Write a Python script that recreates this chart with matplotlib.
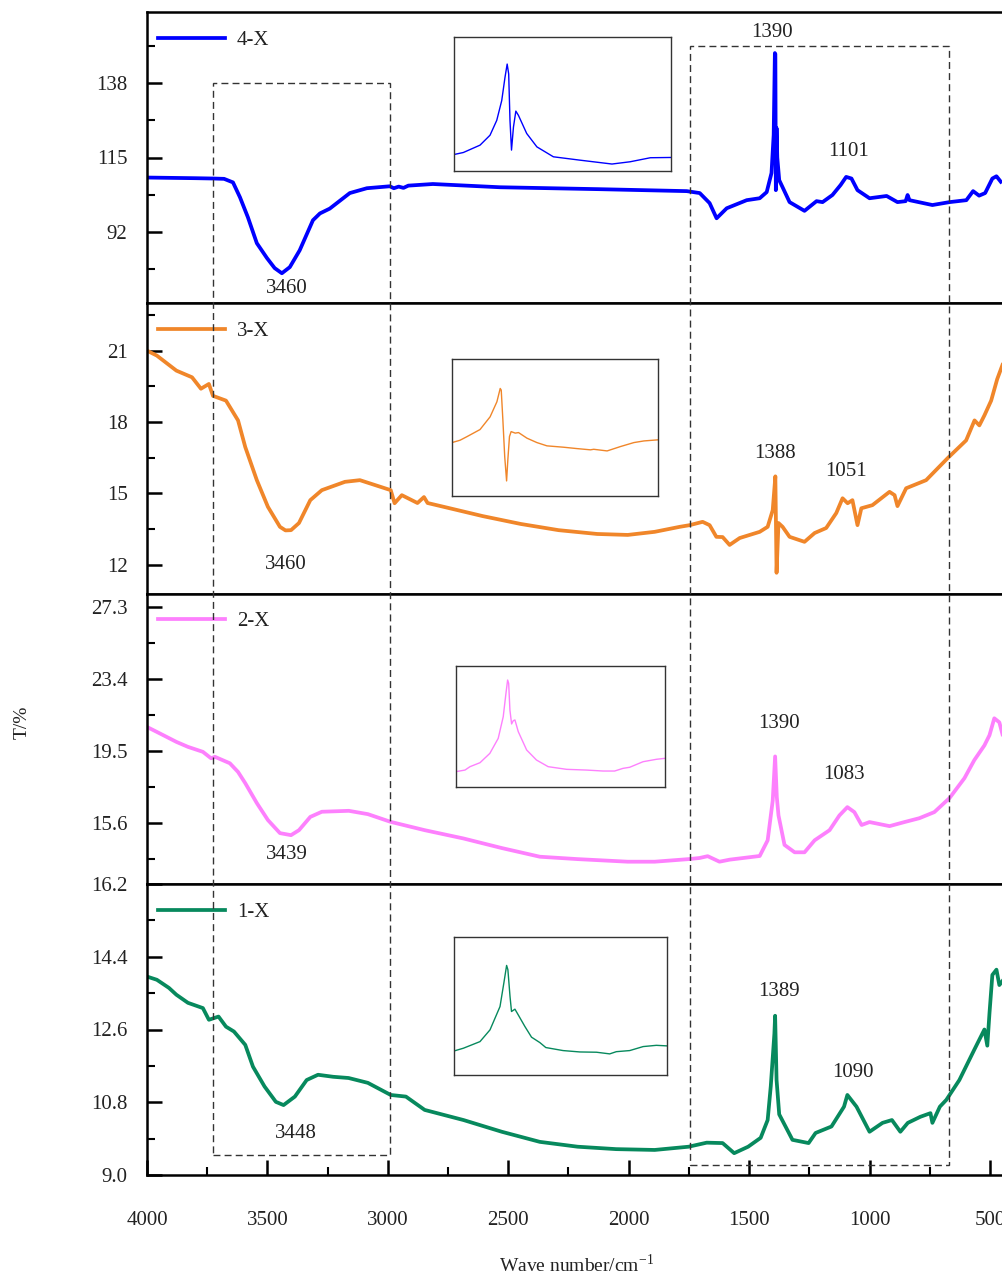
import matplotlib
matplotlib.use('Agg')
import matplotlib.pyplot as plt
import matplotlib.transforms as mtransforms
from matplotlib.patches import Rectangle
from matplotlib.ticker import MultipleLocator, FormatStrFormatter

plt.rcParams['font.family'] = ['Liberation Serif', 'DejaVu Serif']
plt.rcParams['mathtext.fontset'] = 'custom'
plt.rcParams['mathtext.rm'] = 'Liberation Serif'

# ---- spectra (wavenumber, T%) ----
wn4 = [4000, 3900, 3800, 3726, 3680, 3643, 3614, 3581, 3544, 3502, 3470, 3440, 3407, 3366, 3311,
       3282, 3241, 3158, 3087, 2992, 2975, 2955, 2935, 2915, 2813, 2535, 2120, 1759, 1705, 1664,
       1635, 1593, 1510, 1456, 1427, 1407, 1398, 1393, 1391, 1389, 1386, 1383, 1375, 1361, 1332,
       1270, 1220, 1195, 1154, 1120, 1097, 1075, 1050, 1000, 929, 884, 850, 842, 834, 739,
       668, 598, 570, 545, 520, 490, 473, 455]
t4 = [108.8, 108.7, 108.6, 108.5, 108.4, 107.3, 102.7, 96.5, 88.5, 83.9, 80.8, 79.2, 81.1, 86.3, 95.6,
      97.7, 99.2, 104.0, 105.5, 106.1, 105.5, 106.0, 105.6, 106.3, 106.8, 105.8, 105.2, 104.6, 104.0, 100.9,
      96.2, 99.3, 101.8, 102.4, 104.3, 110.2, 122.0, 147.3, 147.0, 104.9, 124.1, 115.0, 108.0, 105.8, 101.2,
      98.5, 101.5, 101.2, 103.4, 106.5, 109.0, 108.5, 104.9, 102.4, 103.1, 101.2, 101.5, 103.4, 101.8, 100.3,
      101.2, 101.8, 104.6, 103.2, 104.0, 108.5, 109.2, 107.5]

wn3 = [4000, 3959, 3878, 3813, 3776, 3743, 3726, 3672, 3622, 3592, 3544, 3498, 3448, 3425, 3402,
       3369, 3322, 3274, 3178, 3116, 3052, 2988, 2972, 2942, 2877, 2850, 2835, 2768, 2606, 2448,
       2291, 2131, 2004, 1892, 1788, 1747, 1693, 1664, 1636, 1610, 1581, 1539, 1456, 1423, 1402,
       1391, 1386, 1378, 1361, 1332, 1270, 1228, 1180, 1138, 1112, 1091, 1071, 1050, 1034, 988,
       917, 896, 884, 848, 765, 676, 599, 564, 544, 523, 495, 470, 448]
t3 = [21.0, 20.79, 20.16, 19.88, 19.4, 19.6, 19.1, 18.9, 18.07, 16.95, 15.56, 14.44, 13.6, 13.45, 13.46,
      13.76, 14.72, 15.14, 15.49, 15.56, 15.35, 15.14, 14.59, 14.93, 14.6, 14.85, 14.6, 14.44, 14.05, 13.72,
      13.46, 13.30, 13.26, 13.39, 13.6, 13.67, 13.81, 13.67, 13.18, 13.17, 12.84, 13.13, 13.39, 13.6, 14.3,
      15.72, 11.67, 13.76, 13.6, 13.18, 12.97, 13.34, 13.55, 14.18, 14.8, 14.59, 14.72, 13.67, 14.38, 14.51,
      15.07, 14.93, 14.47, 15.22, 15.56, 16.48, 17.23, 18.07, 17.86, 18.28, 18.9, 19.8, 20.4]

wn2 = [4000, 3959, 3878, 3830, 3768, 3734, 3718, 3656, 3622, 3592, 3544, 3498, 3448, 3402, 3369,
       3322, 3274, 3162, 3083, 2988, 2847, 2686, 2527, 2369, 2212, 2004, 1892, 1751, 1706, 1672,
       1623, 1581, 1456, 1423, 1402, 1392, 1385, 1378, 1353, 1311, 1270, 1228, 1166, 1125, 1092,
       1063, 1033, 1000, 917, 855, 793, 731, 668, 606, 565, 523, 502, 482, 461, 448]
t2 = [20.8, 20.53, 19.99, 19.72, 19.45, 19.1, 19.18, 18.83, 18.36, 17.75, 16.67, 15.75, 15.04, 14.93, 15.2,
      15.92, 16.2, 16.25, 16.07, 15.65, 15.2, 14.75, 14.23, 13.76, 13.63, 13.49, 13.49, 13.63, 13.69, 13.79,
      13.49, 13.6, 13.8, 14.65, 16.8, 19.2, 17.0, 16.0, 14.4, 14.0, 14.0, 14.65, 15.2, 16.0, 16.45,
      16.18, 15.48, 15.64, 15.42, 15.64, 15.85, 16.18, 16.94, 18.02, 19.0, 19.8, 20.35, 21.27, 21.05, 20.4]

wn1 = [4000, 3959, 3909, 3878, 3830, 3768, 3743, 3703, 3672, 3639, 3592, 3560, 3512, 3465, 3433,
       3386, 3337, 3290, 3227, 3163, 3083, 2988, 2925, 2847, 2686, 2527, 2369, 2212, 2052, 1892,
       1751, 1676, 1610, 1562, 1504, 1452, 1423, 1410, 1395, 1392, 1386, 1375, 1320, 1253, 1224,
       1158, 1106, 1092, 1054, 1000, 946, 907, 872, 841, 789, 747, 739, 708, 681, 627,
       565, 523, 511, 502, 490, 473, 461, 448]
t1 = [13.91, 13.83, 13.63, 13.46, 13.26, 13.13, 12.84, 12.92, 12.67, 12.55, 12.22, 11.68, 11.19, 10.81, 10.73,
      10.94, 11.35, 11.48, 11.43, 11.4, 11.28, 10.98, 10.94, 10.61, 10.36, 10.07, 9.82, 9.70, 9.64, 9.62,
      9.70, 9.80, 9.79, 9.54, 9.70, 9.92, 10.36, 11.2, 12.5, 12.94, 11.35, 10.5, 9.87, 9.79, 10.04,
      10.2, 10.69, 10.98, 10.69, 10.07, 10.29, 10.36, 10.07, 10.29, 10.44, 10.53, 10.29, 10.69, 10.86, 11.35,
      12.1, 12.6, 12.2, 13.0, 13.95, 14.08, 13.7, 13.8]

# ---- insets (relative position %, relative intensity %) ----
ix4 = [0, 4.3, 12, 16.6, 19.7, 22, 23.5, 24.5, 25.2, 25.8, 26.5, 27.4, 28.5, 29.7, 33.5, 38.2, 45.8, 58,
       72.8, 81.2, 90.5, 100]
iy4 = [12.3, 13.8, 19.3, 26.7, 37.8, 52.6, 69.9, 79.8, 72.4, 37.8, 15.6, 32.8, 44.7, 41.5, 28, 18, 10.6, 8.1,
       5.2, 6.9, 9.9, 10.1]
ix3 = [0, 3.9, 7.1, 13.6, 18.5, 21.8, 23.4, 23.9, 24.7, 25.6, 26.5, 27.1, 27.9, 28.7, 30.7, 32.3, 36.4, 41.2,
       46.1, 54.2, 60.7, 67.2, 68.8, 75.3, 81.8, 88.3, 93.2, 100]
iy3 = [39, 40.7, 43.2, 48.5, 57.8, 68.8, 78.5, 77.3, 55.4, 28.5, 11, 26.3, 43.4, 47, 45.9, 46.3, 42.2, 39,
       36.6, 35.6, 34.6, 33.7, 34.1, 32.9, 36.1, 39, 40.2, 41]
ix2 = [0, 4.3, 6.7, 11.5, 16.2, 20.2, 22.6, 23.9, 24.7, 25.2, 25.8, 26.6, 27.4, 28.2, 29.8, 33.8, 38.5, 44.1,
       52.9, 62.4, 70.4, 75.9, 79.9, 83.1, 89.5, 95.9, 100]
iy2 = [12.7, 14, 16.8, 20.1, 27.8, 40.2, 58.1, 77.4, 88.4, 85.7, 63.6, 52.1, 54.8, 55.4, 45.7, 30.6, 22.3, 16.8,
       14.6, 14, 13.2, 13.2, 15.4, 16.3, 20.9, 22.9, 23.7]
ix1 = [0, 4.4, 12.2, 16.9, 21.6, 23.4, 24.7, 25.3, 26.3, 27, 28.6, 29.7, 33.3, 36.4, 40.3, 43.1, 51.2, 59.1,
       66.9, 73.1, 76.2, 82.5, 88.8, 95, 100]
iy1 = [17.4, 19.4, 24.2, 32.7, 49.6, 66.6, 79.4, 76.3, 56.9, 46, 47.7, 44.8, 35.1, 27.4, 23.5, 19.9, 17.7, 16.7,
       16.5, 15.3, 16.9, 17.7, 20.6, 21.5, 21.1]

labels = ['4-X', '3-X', '2-X', '1-X']
colors = ['#0000ff', '#f0862a', '#fd80fd', '#07895d']
ylims = [(70.0, 160.0), (10.8, 23.0), (12.28, 28.04), (9.0, 16.2)]
ymajor = [23, 3, 3.9, 1.8]
yfmt = ['%d', '%d', '%.1f', '%.1f']
peaks = [
    [('3460', 3419, 74.6), ('1390', 1407, 153.8), ('1101', 1087, 117.0)],
    [('3460', 3423, 12.0), ('1388', 1394, 16.69), ('1051', 1096, 15.93)],
    [('3439', 3419, 13.9), ('1390', 1374, 21.0), ('1083', 1108, 18.24)],
    [('3448', 3382, 10.02), ('1389', 1374, 13.53), ('1090', 1071, 11.53)],
]
series = [(wn4, t4), (wn3, t3), (wn2, t2), (wn1, t1)]
insets = [(ix4, iy4), (ix3, iy3), (ix2, iy2), (ix1, iy1)]

W, H = 1003, 1277
fig = plt.figure(figsize=(W / 100, H / 100), dpi=100)


def px_rect(x0, y0, x1, y1):
    return [x0 / W, 1 - y1 / H, (x1 - x0) / W, (y1 - y0) / H]


panel_px = [(12, 303), (303, 593.5), (593.5, 884), (884, 1175)]
inset_px = [(454, 37, 671, 171), (452, 359, 658, 496), (456, 666, 665, 787), (454, 937, 667, 1075)]
tc = '#222222'

axes = []
for i in range(4):
    y0, y1 = panel_px[i]
    ax = fig.add_axes(px_rect(147, y0, 1015, y1))
    x, y = series[i]
    ax.plot(x, y, color=colors[i], lw=2.7, label=labels[i])
    ax.set_xlim(4000, 396)
    ax.set_ylim(*ylims[i])
    ax.yaxis.set_major_locator(MultipleLocator(ymajor[i]))
    ax.yaxis.set_minor_locator(MultipleLocator(ymajor[i] / 2))
    ax.yaxis.set_major_formatter(FormatStrFormatter(yfmt[i]))
    ax.xaxis.set_major_locator(MultipleLocator(500))
    ax.xaxis.set_minor_locator(MultipleLocator(250))
    for s in ax.spines.values():
        s.set_linewidth(1.8)
        s.set_color('black')
    ax.tick_params(axis='y', which='major', direction='in', length=11, width=1.8,
                   labelsize=15, pad=14, colors='black', labelcolor=tc)
    ax.tick_params(axis='y', which='minor', direction='in', length=6, width=1.5)
    ax.tick_params(axis='x', which='major', direction='in', length=11, width=1.8,
                   labelsize=15, pad=26, labelcolor=tc)
    ax.tick_params(axis='x', which='minor', direction='in', length=6, width=1.5)
    if i < 3:
        ax.tick_params(axis='x', which='both', bottom=False, labelbottom=False)
    for txt, xx, yy in peaks[i]:
        ax.text(xx, yy, txt, ha='center', va='center', fontsize=15, color=tc)
    ax.legend(loc='upper left', bbox_to_anchor=(0.003, 0.966), frameon=False, fontsize=15,
              handlelength=3.2, handletextpad=0.6, borderaxespad=0.0, labelcolor=tc)

    ins = fig.add_axes(px_rect(*inset_px[i]))
    ix, iy = insets[i]
    ins.plot(ix, iy, color=colors[i], lw=1.0)
    ins.set_xlim(0, 100)
    ins.set_ylim(0, 100)
    ins.set_xticks([])
    ins.set_yticks([])
    for s in ins.spines.values():
        s.set_linewidth(1.0)
        s.set_color('#333333')
    axes.append(ax)

# dashed boxes spanning all panels
blend = mtransforms.blended_transform_factory(axes[3].transData, fig.transFigure)
for xa, xb, ya, yb in [(3726, 2991, 83, 1155), (1747, 672, 46, 1165)]:
    rect = Rectangle((xa, 1 - yb / H), xb - xa, (yb - ya) / H, transform=blend, fill=False,
                     ec='#333333', lw=1.0, ls=(0, (5, 3)), zorder=5)
    fig.add_artist(rect)

fig.text(22 / W, 1 - 722 / H, 'T/%', rotation=90, ha='center', va='center', fontsize=14, color=tc)
fig.text(577 / W, 1 - 1265 / H, 'Wave number/cm$^{\\mathregular{-1}}$', ha='center', va='center',
         fontsize=14, color=tc)

fig.savefig('out.png', dpi=100)
